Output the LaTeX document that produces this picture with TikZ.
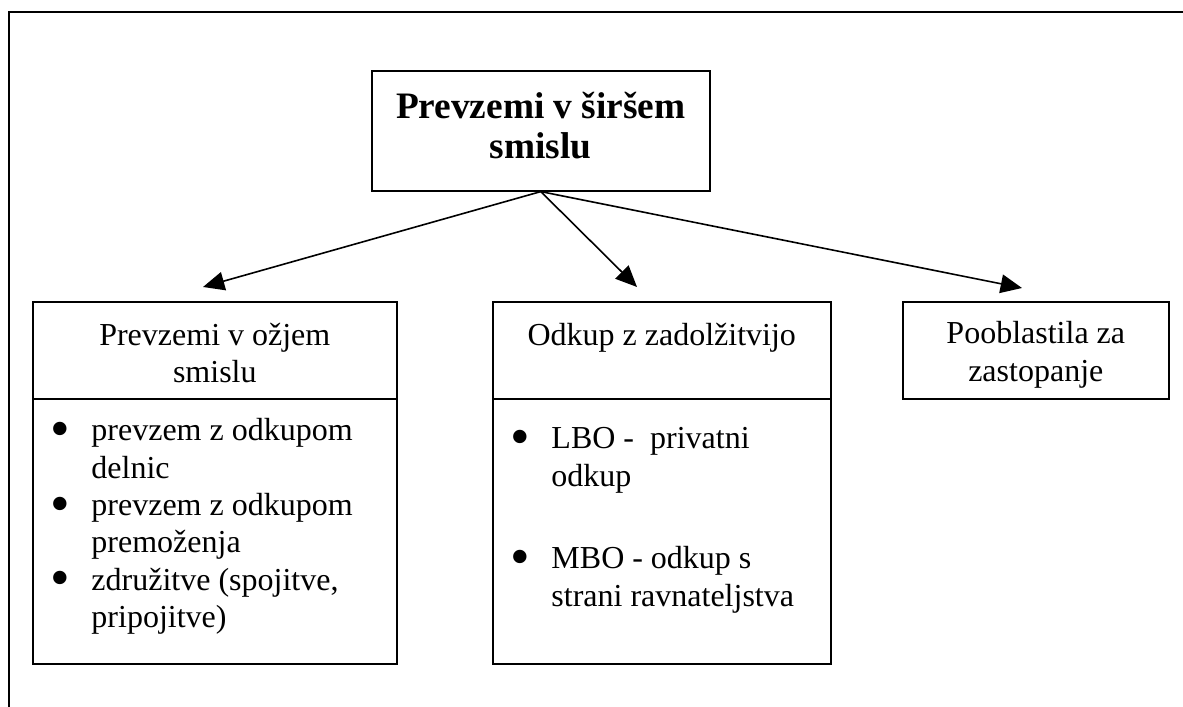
\documentclass[tikz,border=0pt]{standalone}
\usepackage{fontspec}
\setmainfont{Liberation Serif}
\usetikzlibrary{arrows.meta}

\newcommand{\bigdot}{{\fontsize{21}{14}\selectfont\raisebox{-2.6pt}{\textbullet}}}
\newenvironment{bul}[1]{\begin{list}{\bigdot}{\setlength{\leftmargin}{22pt}\setlength{\rightmargin}{8pt}\setlength{\labelsep}{8pt}\setlength{\itemsep}{#1}\setlength{\topsep}{0pt}\setlength{\parsep}{0pt}\setlength{\partopsep}{0pt}}}{\end{list}\par\nointerlineskip\hbox to\hsize{}}

\tikzset{
	box/.style={draw, line width=0.6pt, inner sep=0pt, anchor=north west, font=\fontsize{12}{14}\selectfont},
	link/.style={line width=0.6pt, -{Triangle[length=8pt,width=7pt]}}
}

\begin{document}
\begin{tikzpicture}[x=0.375pt, y=-0.375pt]
			
			\useasboundingbox (0,0) rectangle (1183,707);
			\draw[line width=0.7pt] (9,707) -- (9,12) -- (1183,12);
			
			\node[box, font=\fontsize{14}{15}\selectfont\bfseries] (top) at (371,70) {\parbox[t][45pt][t]{126.75pt}{\vspace*{7.5pt}\centering\strut Prevzemi v širšem\\smislu}};
			
			\node[box] (nhead) at (32,301) {\parbox[t][36.4pt][t]{136.5pt}{\vspace*{6.5pt}\centering\strut Prevzemi v ožjem\\smislu}};
			\node[box] (nbody) at (32,398) {\parbox[t][99.4pt][t]{136.5pt}{\vspace*{7.4pt}\raggedright
				\begin{bul}{0pt}
				\item prevzem z odkupom delnic
				\item prevzem z odkupom premoženja
				\item združitve (spojitve, pripojitve)
				\end{bul}}};
			
			\node[box] (ohead) at (492,301) {\parbox[t][36.4pt][t]{126.75pt}{\vspace*{6.5pt}\centering\strut Odkup z zadolžitvijo\\\mbox{}}};
			\node[box] (obody) at (492,398) {\parbox[t][99.4pt][t]{126.75pt}{\vspace*{10.8pt}\raggedright
				\begin{bul}{17pt}
				\item LBO -\ \ privatni odkup
				\item MBO - odkup s strani ravnateljstva
				\end{bul}}};
			
			\node[box] (phead) at (902,301) {\parbox[t][36.4pt][t]{99.75pt}{\vspace*{6pt}\centering\strut Pooblastila za\\zastopanje}};
			
			\coordinate (ntip) at (203,287);
			\coordinate (otip) at (637,287);
			\coordinate (ptip) at (1022,288);
			
			\draw[link] (top.south) -- (ntip);
			\draw[link] (top.south) -- (otip);
			\draw[link] (top.south) -- (ptip);
			
\end{tikzpicture}
\end{document}
